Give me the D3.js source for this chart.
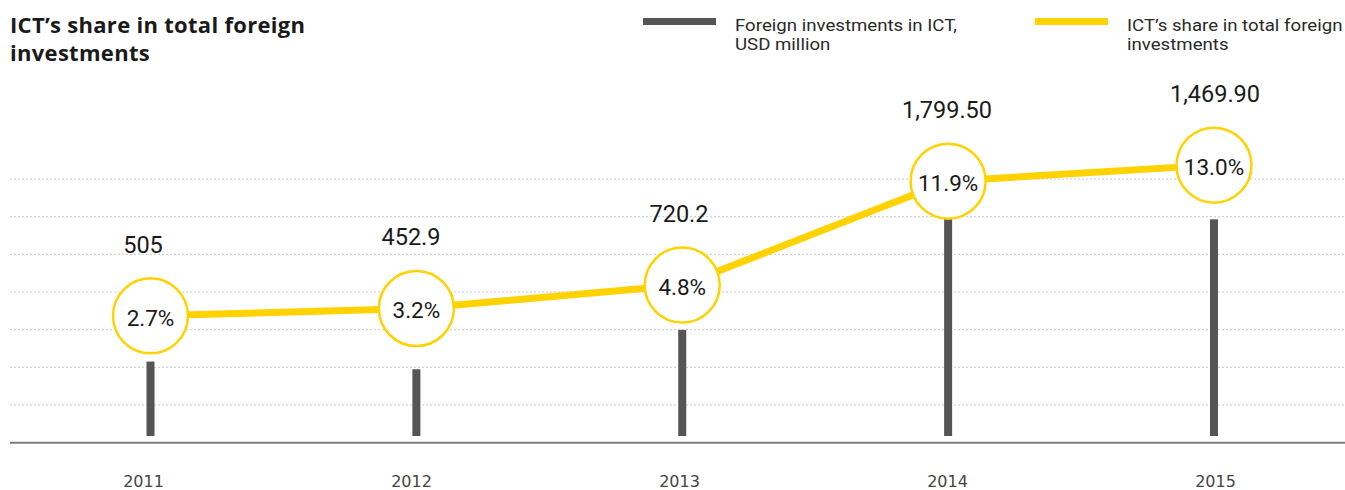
<!DOCTYPE html>
<html>
<head>
<meta charset="utf-8">
<script src="https://cdn.jsdelivr.net/npm/d3@7"></script>
<style>
  html, body { margin: 0; padding: 0; background: #fff; }
  svg { display: block; }
</style>
</head>
<body>
<svg id="chart" width="1345" height="490"></svg>
<script>
// ---- data ----
const years = ["2011", "2012", "2013", "2014", "2015"];
const investments = [505, 452.9, 720.2, 1799.5, 1469.9];
const investmentLabels = ["505", "452.9", "720.2", "1,799.50", "1,469.90"];
const ictShare = [2.7, 3.2, 4.8, 11.9, 13.0];
const shareLabels = ["2.7%", "3.2%", "4.8%", "11.9%", "13.0%"];
const gridTicks = [1, 2, 3, 4, 5, 6, 7];
const titleLines = ["ICT\u2019s share in total foreign", "investments"];
const legendItems = [
  { key: "bar", lines: ["Foreign investments in ICT,", "USD million"] },
  { key: "line", lines: ["ICT\u2019s share in total foreign", "investments"] }
];

// ---- styles ----
const GRAY = "#555555";
const YELLOW = "#FFD200";
const TEXT = "#1a1a1a";

const svg = d3.select("#chart");

// scales
const x = d3.scalePoint().domain(years).range([150.5, 1214]);
const xLabel = d3.scalePoint().domain(years).range([143, 1215]);
const yBar = d3.scaleLinear().domain([0, 2000]).range([436, 141.2]);
const yPct = d3.scaleLinear().domain([0, 14]).range([355.3, 150.5]);
const yGrid = d3.scaleLinear().domain([0, 7]).range([442.7, 179]);

// gridlines
svg.append("g").selectAll("line").data(gridTicks).join("line")
  .attr("x1", 10).attr("x2", 1345)
  .attr("y1", d => yGrid(d)).attr("y2", d => yGrid(d))
  .attr("stroke", "#c8c8c8").attr("stroke-width", 1)
  .attr("stroke-dasharray", "2,2");

// baseline axis
const xAxis = d3.axisBottom(xLabel).tickSize(0).tickPadding(0);
const axisG = svg.append("g").attr("transform", `translate(0,${yGrid(0)})`).call(xAxis);
axisG.select(".domain").remove();
axisG.append("line").attr("x1", 10).attr("x2", 1345).attr("y1", 0).attr("y2", 0)
  .attr("stroke", "#7f7f7f").attr("stroke-width", 2);
axisG.selectAll(".tick text")
  .attr("y", 44).attr("dy", 0)
  .attr("font-family", "DejaVu Sans").attr("font-size", 16)
  .attr("font-weight", 400)
  .attr("fill", "#444");

// bars
svg.append("g").selectAll("rect").data(years).join("rect")
  .attr("x", d => x(d) - 4).attr("width", 8)
  .attr("y", (d, i) => yBar(investments[i]))
  .attr("height", (d, i) => yBar(0) - yBar(investments[i]))
  .attr("fill", GRAY);

// line
const line = d3.line().x((d, i) => x(years[i])).y(d => yPct(d));
svg.append("path").datum(ictShare)
  .attr("d", line).attr("fill", "none")
  .attr("stroke", YELLOW).attr("stroke-width", 7);

// circles
svg.append("g").selectAll("circle").data(ictShare).join("circle")
  .attr("cx", (d, i) => x(years[i])).attr("cy", d => yPct(d))
  .attr("r", 37.5).attr("fill", "#fff")
  .attr("stroke", YELLOW).attr("stroke-width", 2.5);

// percent labels
svg.append("g").selectAll("text").data(ictShare).join("text")
  .attr("x", (d, i) => x(years[i])).attr("y", d => yPct(d) + 10)
  .attr("text-anchor", "middle")
  .attr("font-family", "Roboto").attr("font-size", 22.5)
  .attr("fill", TEXT)
  .text((d, i) => shareLabels[i]);

// value labels
svg.append("g").selectAll("text").data(ictShare).join("text")
  .attr("x", (d, i) => xLabel(years[i])).attr("y", d => yPct(d) - 63)
  .attr("text-anchor", "middle")
  .attr("font-family", "Roboto").attr("font-size", 23.5)
  .attr("fill", TEXT)
  .text((d, i) => investmentLabels[i]);

// title
svg.append("text")
  .attr("font-family", "Open Sans").attr("font-weight", 700)
  .attr("font-size", 22).attr("letter-spacing", 0.3).attr("fill", TEXT)
  .selectAll("tspan").data(titleLines).join("tspan")
  .attr("x", 10).attr("y", (d, i) => 33 + i * 28)
  .text(d => d);

// legend
const legendX = [643, 1035];
const lg = svg.append("g").selectAll("g").data(legendItems).join("g")
  .attr("transform", (d, i) => `translate(${legendX[i]},0)`);
lg.append("rect").attr("x", 0).attr("y", 18).attr("width", 73).attr("height", 7)
  .attr("fill", d => d.key === "bar" ? GRAY : YELLOW);
lg.append("g").attr("transform", "translate(92,0) scale(1.13,1)")
  .selectAll("text").data(d => d.lines).join("text")
  .attr("x", 0).attr("y", (d, i) => 31 + i * 19.5)
  .attr("font-family", "Roboto").attr("font-weight", 400)
  .attr("font-size", 16.5).attr("fill", "#2a2a2a")
  .text(d => d);
</script>
</body>
</html>
